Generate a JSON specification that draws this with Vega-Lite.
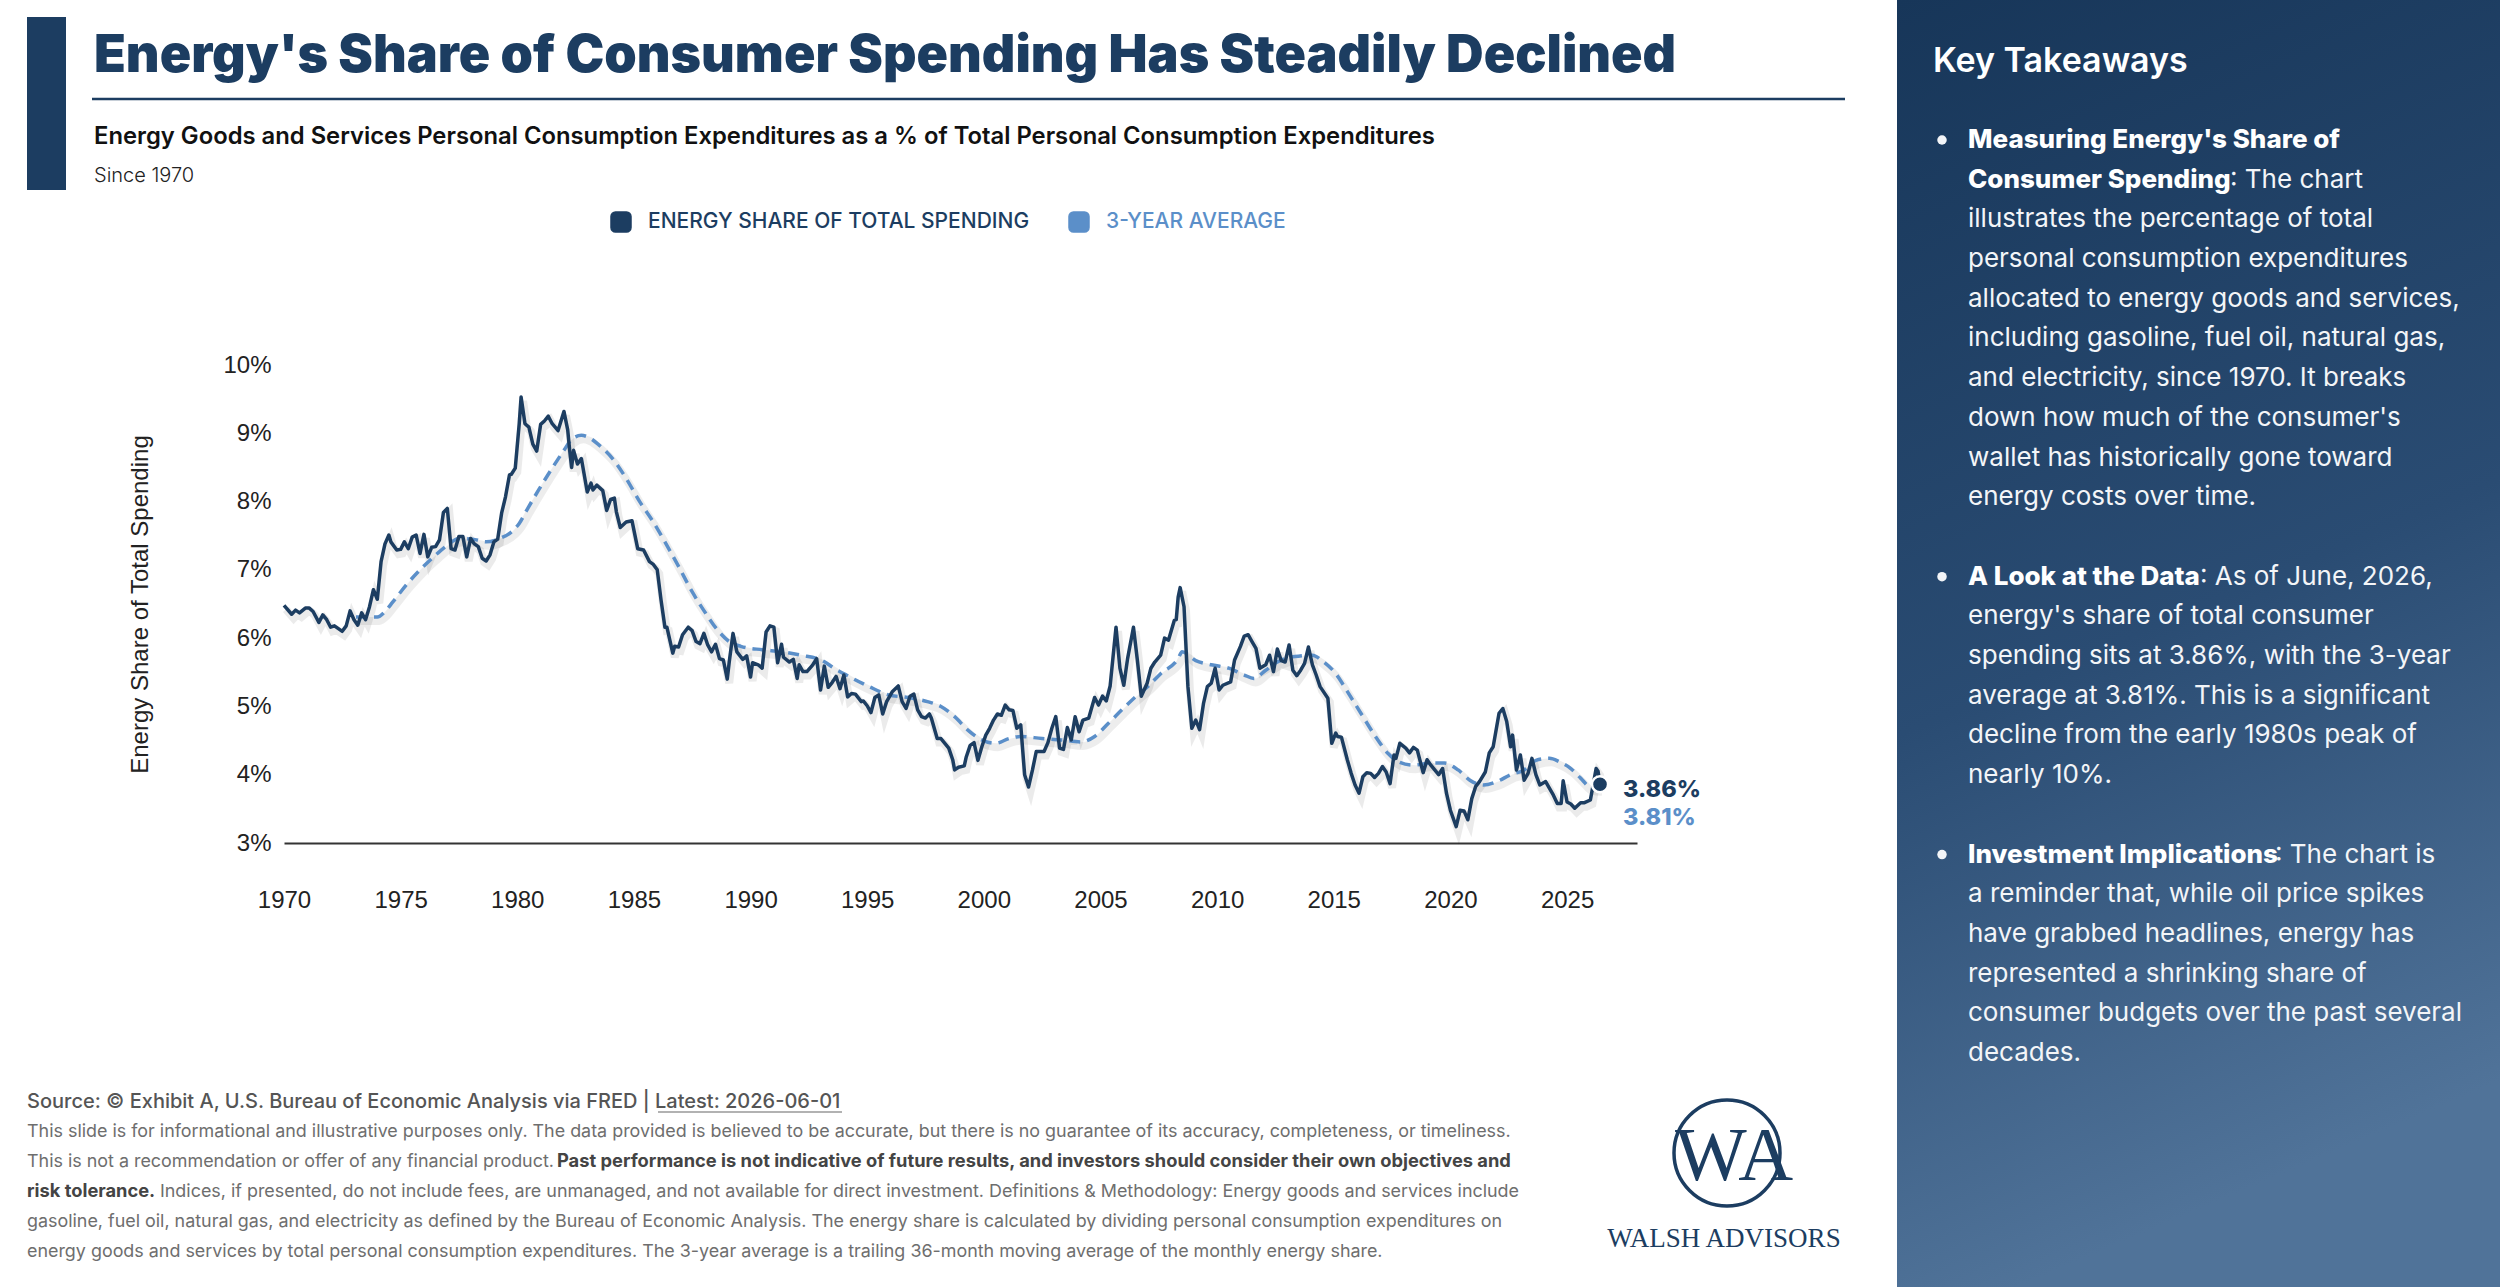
{
  "$schema": "https://vega.github.io/schema/vega-lite/v6.json",
  "width": 1353,
  "height": 478,
  "autosize": "none",
  "padding": {"left": 284, "top": 365, "right": 863, "bottom": 444},
  "background": "#ffffff",
  "config": {"view": {"stroke": null}, "font": "Inter"},
  "datasets": {
    "share": [
      {"date": "1970-01-01", "share": 0.0648}, {"date": "1970-05-01", "share": 0.0635}, {"date": "1970-07-01", "share": 0.0641},
      {"date": "1970-09-01", "share": 0.0637}, {"date": "1970-12-01", "share": 0.0644}, {"date": "1971-02-01", "share": 0.0644},
      {"date": "1971-04-01", "share": 0.0639}, {"date": "1971-07-01", "share": 0.0623}, {"date": "1971-09-01", "share": 0.0634},
      {"date": "1971-11-01", "share": 0.0627}, {"date": "1972-01-01", "share": 0.0616}, {"date": "1972-03-01", "share": 0.0618},
      {"date": "1972-07-01", "share": 0.0610}, {"date": "1972-09-01", "share": 0.0618}, {"date": "1972-11-01", "share": 0.0640},
      {"date": "1973-01-01", "share": 0.0627}, {"date": "1973-03-01", "share": 0.0619}, {"date": "1973-05-01", "share": 0.0637},
      {"date": "1973-07-01", "share": 0.0627}, {"date": "1973-09-01", "share": 0.0646}, {"date": "1973-11-01", "share": 0.0671},
      {"date": "1974-01-01", "share": 0.0657}, {"date": "1974-03-01", "share": 0.0712}, {"date": "1974-05-01", "share": 0.0738},
      {"date": "1974-07-01", "share": 0.0751}, {"date": "1974-08-01", "share": 0.0741}, {"date": "1974-11-01", "share": 0.0729},
      {"date": "1975-01-01", "share": 0.0730}, {"date": "1975-03-01", "share": 0.0741}, {"date": "1975-05-01", "share": 0.0731},
      {"date": "1975-07-01", "share": 0.0748}, {"date": "1975-09-01", "share": 0.0751}, {"date": "1975-11-01", "share": 0.0724},
      {"date": "1976-01-01", "share": 0.0752}, {"date": "1976-03-01", "share": 0.0719}, {"date": "1976-05-01", "share": 0.0733},
      {"date": "1976-07-01", "share": 0.0734}, {"date": "1976-09-01", "share": 0.0744}, {"date": "1976-11-01", "share": 0.0784},
      {"date": "1977-01-01", "share": 0.0790}, {"date": "1977-03-01", "share": 0.0731}, {"date": "1977-05-01", "share": 0.0729},
      {"date": "1977-07-01", "share": 0.0749}, {"date": "1977-09-01", "share": 0.0749}, {"date": "1977-11-01", "share": 0.0719},
      {"date": "1978-01-01", "share": 0.0746}, {"date": "1978-03-01", "share": 0.0738}, {"date": "1978-05-01", "share": 0.0734},
      {"date": "1978-07-01", "share": 0.0717}, {"date": "1978-09-01", "share": 0.0713}, {"date": "1978-11-01", "share": 0.0722},
      {"date": "1979-01-01", "share": 0.0741}, {"date": "1979-03-01", "share": 0.0745}, {"date": "1979-05-01", "share": 0.0783},
      {"date": "1979-07-01", "share": 0.0807}, {"date": "1979-09-01", "share": 0.0839}, {"date": "1979-10-01", "share": 0.0840},
      {"date": "1979-12-01", "share": 0.0849}, {"date": "1980-02-01", "share": 0.0914}, {"date": "1980-03-01", "share": 0.0953},
      {"date": "1980-05-01", "share": 0.0914}, {"date": "1980-07-01", "share": 0.0909}, {"date": "1980-09-01", "share": 0.0884},
      {"date": "1980-11-01", "share": 0.0874}, {"date": "1981-01-01", "share": 0.0913}, {"date": "1981-03-01", "share": 0.0918},
      {"date": "1981-05-01", "share": 0.0925}, {"date": "1981-07-01", "share": 0.0914}, {"date": "1981-10-01", "share": 0.0904},
      {"date": "1982-01-01", "share": 0.0932}, {"date": "1982-03-01", "share": 0.0905}, {"date": "1982-04-01", "share": 0.0875},
      {"date": "1982-05-01", "share": 0.0850}, {"date": "1982-06-01", "share": 0.0875}, {"date": "1982-08-01", "share": 0.0855},
      {"date": "1982-10-01", "share": 0.0863}, {"date": "1983-01-01", "share": 0.0814}, {"date": "1983-03-01", "share": 0.0827},
      {"date": "1983-04-01", "share": 0.0817}, {"date": "1983-06-01", "share": 0.0824}, {"date": "1983-09-01", "share": 0.0816},
      {"date": "1983-11-01", "share": 0.0787}, {"date": "1984-01-01", "share": 0.0803}, {"date": "1984-03-01", "share": 0.0805},
      {"date": "1984-04-01", "share": 0.0785}, {"date": "1984-06-01", "share": 0.0762}, {"date": "1984-09-01", "share": 0.0770},
      {"date": "1984-12-01", "share": 0.0772}, {"date": "1985-03-01", "share": 0.0731}, {"date": "1985-06-01", "share": 0.0729},
      {"date": "1985-09-01", "share": 0.0712}, {"date": "1985-11-01", "share": 0.0708}, {"date": "1986-01-01", "share": 0.0700},
      {"date": "1986-03-01", "share": 0.0656}, {"date": "1986-05-01", "share": 0.0616}, {"date": "1986-06-01", "share": 0.0616},
      {"date": "1986-09-01", "share": 0.0578}, {"date": "1986-10-01", "share": 0.0588}, {"date": "1986-12-01", "share": 0.0587},
      {"date": "1987-02-01", "share": 0.0605}, {"date": "1987-05-01", "share": 0.0616}, {"date": "1987-07-01", "share": 0.0611},
      {"date": "1987-09-01", "share": 0.0595}, {"date": "1987-11-01", "share": 0.0592}, {"date": "1988-01-01", "share": 0.0607},
      {"date": "1988-03-01", "share": 0.0590}, {"date": "1988-05-01", "share": 0.0580}, {"date": "1988-07-01", "share": 0.0591},
      {"date": "1988-09-01", "share": 0.0570}, {"date": "1988-11-01", "share": 0.0568}, {"date": "1989-01-01", "share": 0.0540},
      {"date": "1989-02-01", "share": 0.0565}, {"date": "1989-04-01", "share": 0.0607}, {"date": "1989-06-01", "share": 0.0580},
      {"date": "1989-09-01", "share": 0.0569}, {"date": "1989-11-01", "share": 0.0574}, {"date": "1990-01-01", "share": 0.0543},
      {"date": "1990-02-01", "share": 0.0564}, {"date": "1990-05-01", "share": 0.0561}, {"date": "1990-07-01", "share": 0.0556},
      {"date": "1990-09-01", "share": 0.0609}, {"date": "1990-11-01", "share": 0.0618}, {"date": "1991-01-01", "share": 0.0616},
      {"date": "1991-03-01", "share": 0.0564}, {"date": "1991-05-01", "share": 0.0591}, {"date": "1991-06-01", "share": 0.0572},
      {"date": "1991-09-01", "share": 0.0565}, {"date": "1991-11-01", "share": 0.0569}, {"date": "1992-01-01", "share": 0.0541},
      {"date": "1992-02-01", "share": 0.0561}, {"date": "1992-04-01", "share": 0.0551}, {"date": "1992-06-01", "share": 0.0551},
      {"date": "1992-09-01", "share": 0.0561}, {"date": "1992-11-01", "share": 0.0570}, {"date": "1993-01-01", "share": 0.0524},
      {"date": "1993-03-01", "share": 0.0559}, {"date": "1993-05-01", "share": 0.0528}, {"date": "1993-07-01", "share": 0.0535},
      {"date": "1993-09-01", "share": 0.0544}, {"date": "1993-11-01", "share": 0.0526}, {"date": "1994-01-01", "share": 0.0546},
      {"date": "1994-03-01", "share": 0.0514}, {"date": "1994-05-01", "share": 0.0519}, {"date": "1994-07-01", "share": 0.0518},
      {"date": "1994-10-01", "share": 0.0507}, {"date": "1994-11-01", "share": 0.0508}, {"date": "1995-01-01", "share": 0.0501},
      {"date": "1995-03-01", "share": 0.0491}, {"date": "1995-05-01", "share": 0.0513}, {"date": "1995-07-01", "share": 0.0517},
      {"date": "1995-09-01", "share": 0.0489}, {"date": "1995-11-01", "share": 0.0507}, {"date": "1996-02-01", "share": 0.0522},
      {"date": "1996-05-01", "share": 0.0530}, {"date": "1996-07-01", "share": 0.0507}, {"date": "1996-09-01", "share": 0.0497},
      {"date": "1996-11-01", "share": 0.0515}, {"date": "1997-01-01", "share": 0.0518}, {"date": "1997-03-01", "share": 0.0495},
      {"date": "1997-05-01", "share": 0.0485}, {"date": "1997-07-01", "share": 0.0483}, {"date": "1997-09-01", "share": 0.0489},
      {"date": "1997-10-01", "share": 0.0483}, {"date": "1998-01-01", "share": 0.0453}, {"date": "1998-03-01", "share": 0.0453},
      {"date": "1998-05-01", "share": 0.0446}, {"date": "1998-07-01", "share": 0.0439}, {"date": "1998-09-01", "share": 0.0422},
      {"date": "1998-10-01", "share": 0.0407}, {"date": "1998-12-01", "share": 0.0411}, {"date": "1999-03-01", "share": 0.0413},
      {"date": "1999-04-01", "share": 0.0426}, {"date": "1999-06-01", "share": 0.0443}, {"date": "1999-08-01", "share": 0.0447},
      {"date": "1999-10-01", "share": 0.0421}, {"date": "1999-12-01", "share": 0.0441}, {"date": "2000-02-01", "share": 0.0458},
      {"date": "2000-04-01", "share": 0.0468}, {"date": "2000-06-01", "share": 0.0480}, {"date": "2000-08-01", "share": 0.0489},
      {"date": "2000-10-01", "share": 0.0487}, {"date": "2000-12-01", "share": 0.0502}, {"date": "2001-02-01", "share": 0.0495},
      {"date": "2001-04-01", "share": 0.0494}, {"date": "2001-06-01", "share": 0.0468}, {"date": "2001-08-01", "share": 0.0473},
      {"date": "2001-10-01", "share": 0.0400}, {"date": "2001-12-01", "share": 0.0382}, {"date": "2002-02-01", "share": 0.0407},
      {"date": "2002-04-01", "share": 0.0434}, {"date": "2002-08-01", "share": 0.0434}, {"date": "2002-10-01", "share": 0.0447},
      {"date": "2002-12-01", "share": 0.0468}, {"date": "2003-02-01", "share": 0.0485}, {"date": "2003-04-01", "share": 0.0439},
      {"date": "2003-06-01", "share": 0.0437}, {"date": "2003-08-01", "share": 0.0469}, {"date": "2003-10-01", "share": 0.0451},
      {"date": "2003-12-01", "share": 0.0485}, {"date": "2004-02-01", "share": 0.0463}, {"date": "2004-04-01", "share": 0.0480},
      {"date": "2004-07-01", "share": 0.0483}, {"date": "2004-10-01", "share": 0.0513}, {"date": "2004-12-01", "share": 0.0502},
      {"date": "2005-02-01", "share": 0.0515}, {"date": "2005-04-01", "share": 0.0508}, {"date": "2005-06-01", "share": 0.0530},
      {"date": "2005-09-01", "share": 0.0616}, {"date": "2005-11-01", "share": 0.0556}, {"date": "2006-01-01", "share": 0.0531},
      {"date": "2006-03-01", "share": 0.0570}, {"date": "2006-06-01", "share": 0.0616}, {"date": "2006-08-01", "share": 0.0568},
      {"date": "2006-10-01", "share": 0.0515}, {"date": "2007-01-01", "share": 0.0534}, {"date": "2007-03-01", "share": 0.0556},
      {"date": "2007-05-01", "share": 0.0565}, {"date": "2007-08-01", "share": 0.0575}, {"date": "2007-10-01", "share": 0.0600},
      {"date": "2007-12-01", "share": 0.0597}, {"date": "2008-03-01", "share": 0.0626}, {"date": "2008-04-01", "share": 0.0627},
      {"date": "2008-05-01", "share": 0.0660}, {"date": "2008-06-01", "share": 0.0674}, {"date": "2008-08-01", "share": 0.0646},
      {"date": "2008-10-01", "share": 0.0529}, {"date": "2008-12-01", "share": 0.0468}, {"date": "2009-02-01", "share": 0.0480},
      {"date": "2009-04-01", "share": 0.0466}, {"date": "2009-06-01", "share": 0.0504}, {"date": "2009-08-01", "share": 0.0529},
      {"date": "2009-10-01", "share": 0.0534}, {"date": "2009-12-01", "share": 0.0556}, {"date": "2010-02-01", "share": 0.0524},
      {"date": "2010-04-01", "share": 0.0531}, {"date": "2010-08-01", "share": 0.0536}, {"date": "2010-10-01", "share": 0.0568},
      {"date": "2011-01-01", "share": 0.0588}, {"date": "2011-03-01", "share": 0.0603}, {"date": "2011-05-01", "share": 0.0605},
      {"date": "2011-07-01", "share": 0.0595}, {"date": "2011-09-01", "share": 0.0585}, {"date": "2011-11-01", "share": 0.0556},
      {"date": "2012-02-01", "share": 0.0561}, {"date": "2012-04-01", "share": 0.0575}, {"date": "2012-06-01", "share": 0.0551},
      {"date": "2012-08-01", "share": 0.0584}, {"date": "2012-10-01", "share": 0.0567}, {"date": "2012-12-01", "share": 0.0565},
      {"date": "2013-02-01", "share": 0.0590}, {"date": "2013-04-01", "share": 0.0553}, {"date": "2013-06-01", "share": 0.0545},
      {"date": "2013-08-01", "share": 0.0553}, {"date": "2013-10-01", "share": 0.0563}, {"date": "2013-12-01", "share": 0.0587},
      {"date": "2014-02-01", "share": 0.0561}, {"date": "2014-04-01", "share": 0.0546}, {"date": "2014-06-01", "share": 0.0529},
      {"date": "2014-10-01", "share": 0.0512}, {"date": "2014-12-01", "share": 0.0446}, {"date": "2015-02-01", "share": 0.0461},
      {"date": "2015-03-01", "share": 0.0456}, {"date": "2015-05-01", "share": 0.0455}, {"date": "2015-08-01", "share": 0.0422},
      {"date": "2015-10-01", "share": 0.0402}, {"date": "2015-12-01", "share": 0.0385}, {"date": "2016-02-01", "share": 0.0373},
      {"date": "2016-04-01", "share": 0.0397}, {"date": "2016-06-01", "share": 0.0403}, {"date": "2016-08-01", "share": 0.0402},
      {"date": "2016-10-01", "share": 0.0396}, {"date": "2016-12-01", "share": 0.0402}, {"date": "2017-02-01", "share": 0.0412},
      {"date": "2017-04-01", "share": 0.0404}, {"date": "2017-06-01", "share": 0.0387}, {"date": "2017-08-01", "share": 0.0429},
      {"date": "2017-09-01", "share": 0.0424}, {"date": "2017-11-01", "share": 0.0446}, {"date": "2018-02-01", "share": 0.0439},
      {"date": "2018-04-01", "share": 0.0432}, {"date": "2018-06-01", "share": 0.0440}, {"date": "2018-08-01", "share": 0.0436},
      {"date": "2018-11-01", "share": 0.0403}, {"date": "2019-01-01", "share": 0.0422}, {"date": "2019-03-01", "share": 0.0414},
      {"date": "2019-05-01", "share": 0.0407}, {"date": "2019-07-01", "share": 0.0400}, {"date": "2019-09-01", "share": 0.0409},
      {"date": "2019-11-01", "share": 0.0373}, {"date": "2020-01-01", "share": 0.0348}, {"date": "2020-04-01", "share": 0.0324},
      {"date": "2020-06-01", "share": 0.0348}, {"date": "2020-08-01", "share": 0.0347}, {"date": "2020-10-01", "share": 0.0334},
      {"date": "2020-12-01", "share": 0.0365}, {"date": "2021-02-01", "share": 0.0383}, {"date": "2021-04-01", "share": 0.0390},
      {"date": "2021-07-01", "share": 0.0404}, {"date": "2021-09-01", "share": 0.0432}, {"date": "2021-11-01", "share": 0.0441},
      {"date": "2022-02-01", "share": 0.0490}, {"date": "2022-04-01", "share": 0.0497}, {"date": "2022-06-01", "share": 0.0478},
      {"date": "2022-08-01", "share": 0.0441}, {"date": "2022-09-01", "share": 0.0458}, {"date": "2022-11-01", "share": 0.0407},
      {"date": "2023-01-01", "share": 0.0429}, {"date": "2023-03-01", "share": 0.0392}, {"date": "2023-05-01", "share": 0.0402},
      {"date": "2023-07-01", "share": 0.0424}, {"date": "2023-09-01", "share": 0.0400}, {"date": "2023-11-01", "share": 0.0385},
      {"date": "2024-02-01", "share": 0.0390}, {"date": "2024-04-01", "share": 0.0380}, {"date": "2024-06-01", "share": 0.0370},
      {"date": "2024-08-01", "share": 0.0358}, {"date": "2024-10-01", "share": 0.0358}, {"date": "2024-11-01", "share": 0.0391},
      {"date": "2025-01-01", "share": 0.0360}, {"date": "2025-03-01", "share": 0.0357}, {"date": "2025-05-01", "share": 0.0351},
      {"date": "2025-08-01", "share": 0.0359}, {"date": "2025-10-01", "share": 0.0359}, {"date": "2026-01-01", "share": 0.0363},
      {"date": "2026-04-01", "share": 0.0409}, {"date": "2026-05-01", "share": 0.0405}, {"date": "2026-06-01", "share": 0.0386}
    ],
    "average": [
      {"date": "1973-02-01", "avg": 0.0631}, {"date": "1974-01-01", "avg": 0.0631}, {"date": "1974-05-01", "avg": 0.0639},
      {"date": "1974-09-01", "avg": 0.0653}, {"date": "1975-04-01", "avg": 0.0678}, {"date": "1975-11-01", "avg": 0.0700},
      {"date": "1976-06-01", "avg": 0.0719}, {"date": "1977-01-01", "avg": 0.0736}, {"date": "1977-07-01", "avg": 0.0746},
      {"date": "1978-02-01", "avg": 0.0745}, {"date": "1978-09-01", "avg": 0.0741}, {"date": "1979-04-01", "avg": 0.0746},
      {"date": "1979-11-01", "avg": 0.0758}, {"date": "1980-02-01", "avg": 0.0768}, {"date": "1980-06-01", "avg": 0.0788},
      {"date": "1980-12-01", "avg": 0.0817}, {"date": "1981-07-01", "avg": 0.0849}, {"date": "1982-01-01", "avg": 0.0875},
      {"date": "1982-05-01", "avg": 0.0891}, {"date": "1982-10-01", "avg": 0.0897}, {"date": "1983-01-01", "avg": 0.0895},
      {"date": "1983-07-01", "avg": 0.0883}, {"date": "1984-02-01", "avg": 0.0863}, {"date": "1984-09-01", "avg": 0.0834},
      {"date": "1985-04-01", "avg": 0.0800}, {"date": "1985-11-01", "avg": 0.0770}, {"date": "1986-05-01", "avg": 0.0741},
      {"date": "1986-12-01", "avg": 0.0705}, {"date": "1987-07-01", "avg": 0.0668}, {"date": "1988-02-01", "avg": 0.0636},
      {"date": "1988-08-01", "avg": 0.0612}, {"date": "1989-02-01", "avg": 0.0595}, {"date": "1989-08-01", "avg": 0.0588},
      {"date": "1990-07-01", "avg": 0.0583}, {"date": "1991-05-01", "avg": 0.0580}, {"date": "1992-03-01", "avg": 0.0575},
      {"date": "1993-02-01", "avg": 0.0567}, {"date": "1993-08-01", "avg": 0.0556}, {"date": "1994-03-01", "avg": 0.0545},
      {"date": "1995-02-01", "avg": 0.0529}, {"date": "1995-12-01", "avg": 0.0517}, {"date": "1996-10-01", "avg": 0.0513},
      {"date": "1997-08-01", "avg": 0.0507}, {"date": "1998-03-01", "avg": 0.0500}, {"date": "1998-10-01", "avg": 0.0485},
      {"date": "1999-05-01", "avg": 0.0465}, {"date": "1999-12-01", "avg": 0.0451}, {"date": "2000-07-01", "avg": 0.0446},
      {"date": "2001-02-01", "avg": 0.0453}, {"date": "2001-08-01", "avg": 0.0456}, {"date": "2002-07-01", "avg": 0.0453},
      {"date": "2003-05-01", "avg": 0.0451}, {"date": "2004-03-01", "avg": 0.0448}, {"date": "2004-10-01", "avg": 0.0456},
      {"date": "2005-05-01", "avg": 0.0475}, {"date": "2005-12-01", "avg": 0.0495}, {"date": "2006-07-01", "avg": 0.0514},
      {"date": "2007-02-01", "avg": 0.0531}, {"date": "2007-08-01", "avg": 0.0548}, {"date": "2008-05-01", "avg": 0.0570},
      {"date": "2008-07-01", "avg": 0.0580}, {"date": "2009-02-01", "avg": 0.0567}, {"date": "2009-10-01", "avg": 0.0561},
      {"date": "2010-07-01", "avg": 0.0556}, {"date": "2011-03-01", "avg": 0.0546}, {"date": "2011-08-01", "avg": 0.0541},
      {"date": "2012-02-01", "avg": 0.0553}, {"date": "2012-08-01", "avg": 0.0565}, {"date": "2013-05-01", "avg": 0.0573},
      {"date": "2014-02-01", "avg": 0.0575}, {"date": "2014-07-01", "avg": 0.0567}, {"date": "2015-02-01", "avg": 0.0548},
      {"date": "2015-08-01", "avg": 0.0522}, {"date": "2016-03-01", "avg": 0.0490}, {"date": "2016-10-01", "avg": 0.0458},
      {"date": "2017-05-01", "avg": 0.0431}, {"date": "2017-11-01", "avg": 0.0418}, {"date": "2018-06-01", "avg": 0.0414},
      {"date": "2019-03-01", "avg": 0.0417}, {"date": "2019-10-01", "avg": 0.0417}, {"date": "2020-05-01", "avg": 0.0407},
      {"date": "2020-11-01", "avg": 0.0392}, {"date": "2021-06-01", "avg": 0.0385}, {"date": "2022-01-01", "avg": 0.0390},
      {"date": "2022-08-01", "avg": 0.0400}, {"date": "2023-03-01", "avg": 0.0407}, {"date": "2023-09-01", "avg": 0.0421},
      {"date": "2024-04-01", "avg": 0.0424}, {"date": "2024-09-01", "avg": 0.0419}, {"date": "2025-03-01", "avg": 0.0409},
      {"date": "2025-08-01", "avg": 0.0395}, {"date": "2026-01-01", "avg": 0.0382}, {"date": "2026-06-01", "avg": 0.0381}
    ],
    "takeaways": [
      {"line": 0, "seg": 1, "role": "lead", "text": "Measuring Energy's Share of"},
      {"line": 1, "seg": 1, "role": "lead", "text": "Consumer Spending"},
      {"line": 1, "seg": 2, "role": "body", "text": ": The chart"},
      {"line": 2, "seg": 1, "role": "body", "text": "illustrates the percentage of total"},
      {"line": 3, "seg": 1, "role": "body", "text": "personal consumption expenditures"},
      {"line": 4, "seg": 1, "role": "body", "text": "allocated to energy goods and services,"},
      {"line": 5, "seg": 1, "role": "body", "text": "including gasoline, fuel oil, natural gas,"},
      {"line": 6, "seg": 1, "role": "body", "text": "and electricity, since 1970. It breaks"},
      {"line": 7, "seg": 1, "role": "body", "text": "down how much of the consumer's"},
      {"line": 8, "seg": 1, "role": "body", "text": "wallet has historically gone toward"},
      {"line": 9, "seg": 1, "role": "body", "text": "energy costs over time."},
      {"line": 11, "seg": 1, "role": "lead", "text": "A Look at the Data"},
      {"line": 11, "seg": 2, "role": "body", "text": ": As of June, 2026,"},
      {"line": 12, "seg": 1, "role": "body", "text": "energy's share of total consumer"},
      {"line": 13, "seg": 1, "role": "body", "text": "spending sits at 3.86%, with the 3-year"},
      {"line": 14, "seg": 1, "role": "body", "text": "average at 3.81%. This is a significant"},
      {"line": 15, "seg": 1, "role": "body", "text": "decline from the early 1980s peak of"},
      {"line": 16, "seg": 1, "role": "body", "text": "nearly 10%."},
      {"line": 18, "seg": 1, "role": "lead", "text": "Investment Implications"},
      {"line": 18, "seg": 2, "role": "body", "text": ": The chart is"},
      {"line": 19, "seg": 1, "role": "body", "text": "a reminder that, while oil price spikes"},
      {"line": 20, "seg": 1, "role": "body", "text": "have grabbed headlines, energy has"},
      {"line": 21, "seg": 1, "role": "body", "text": "represented a shrinking share of"},
      {"line": 22, "seg": 1, "role": "body", "text": "consumer budgets over the past several"},
      {"line": 23, "seg": 1, "role": "body", "text": "decades."}
    ],
    "bullets": [{"line": 0}, {"line": 11}, {"line": 18}],
    "notes": [
      {"line": 0, "seg": 1, "role": "source", "text": "Source: © Exhibit A, U.S. Bureau of Economic Analysis via FRED | Latest: 2026-06-01"},
      {"line": 1, "seg": 1, "role": "body", "text": "This slide is for informational and illustrative purposes only. The data provided is believed to be accurate, but there is no guarantee of its accuracy, completeness, or timeliness."},
      {"line": 2, "seg": 1, "role": "body", "text": "This is not a recommendation or offer of any financial product."},
      {"line": 2, "seg": 2, "role": "lead", "text": "Past performance is not indicative of future results, and investors should consider their own objectives and"},
      {"line": 3, "seg": 1, "role": "lead", "text": "risk tolerance."},
      {"line": 3, "seg": 2, "role": "body", "text": "Indices, if presented, do not include fees, are unmanaged, and not available for direct investment. Definitions & Methodology: Energy goods and services include"},
      {"line": 4, "seg": 1, "role": "body", "text": "gasoline, fuel oil, natural gas, and electricity as defined by the Bureau of Economic Analysis. The energy share is calculated by dividing personal consumption expenditures on"},
      {"line": 5, "seg": 1, "role": "body", "text": "energy goods and services by total personal consumption expenditures. The 3-year average is a trailing 36-month moving average of the monthly energy share."}
    ]
  },
  "layer": [
    {
      "layer": [
        {
          "data": {"values": [{"part": "panel"}]},
          "mark": {
            "type": "rect",
            "color": {"gradient": "linear", "x1": 0, "y1": 0, "x2": 0.2, "y2": 1,
              "stops": [{"offset": 0, "color": "#173659"}, {"offset": 0.55, "color": "#2a4c73"}, {"offset": 1, "color": "#507399"}]}
          },
          "encoding": {"x": {"value": 1613}, "x2": {"value": 2216}, "y": {"value": -365}, "y2": {"value": 922}}
        },
        {
          "data": {"values": [{"part": "bar"}]},
          "mark": {"type": "rect", "color": "#1c3d61"},
          "encoding": {"x": {"value": -257}, "x2": {"value": -218}, "y": {"value": -348}, "y2": {"value": -175}}
        },
        {
          "data": {"values": [{"part": "rule"}]},
          "mark": {"type": "rule", "color": "#1c3d61", "strokeWidth": 2.5},
          "encoding": {"x": {"value": -192}, "x2": {"value": 1561}, "y": {"value": -266}}
        },
        {
          "data": {"values": [{"text": "Energy's Share of Consumer Spending Has Steadily Declined"}]},
          "mark": {"type": "text", "align": "left", "baseline": "alphabetic", "font": "Inter", "fontSize": 52, "fontWeight": 900, "letterSpacing": -2.8, "color": "#1c3d61"},
          "encoding": {"x": {"value": -190}, "y": {"value": -293}, "text": {"field": "text"}}
        },
        {
          "data": {"values": [{"text": "Energy Goods and Services Personal Consumption Expenditures as a % of Total Personal Consumption Expenditures"}]},
          "mark": {"type": "text", "align": "left", "baseline": "alphabetic", "font": "Inter", "fontSize": 23.8, "fontWeight": 600, "letterSpacing": 0.1, "color": "#111111"},
          "encoding": {"x": {"value": -190}, "y": {"value": -221}, "text": {"field": "text"}}
        },
        {
          "data": {"values": [{"text": "Since 1970"}]},
          "mark": {"type": "text", "align": "left", "baseline": "alphabetic", "font": "Inter", "fontSize": 20, "fontWeight": 300, "color": "#222222"},
          "encoding": {"x": {"value": -190}, "y": {"value": -183}, "text": {"field": "text"}}
        },
        {
          "data": {"values": [{"text": "Key Takeaways"}]},
          "mark": {"type": "text", "align": "left", "baseline": "alphabetic", "font": "Inter", "fontSize": 34, "fontWeight": 600, "color": "#ffffff"},
          "encoding": {"x": {"value": 1649}, "y": {"value": -293}, "text": {"field": "text"}}
        },
        {
          "data": {"values": [{"part": "logo"}]},
          "mark": {"type": "point", "shape": "circle", "filled": false, "size": 11236, "stroke": "#1c3d61", "strokeWidth": 3.5, "opacity": 1},
          "encoding": {"x": {"value": 1443}, "y": {"value": 788}}
        },
        {
          "data": {"values": [{"text": "WA"}]},
          "mark": {"type": "text", "align": "center", "baseline": "middle", "font": "Liberation Serif", "fontSize": 76, "letterSpacing": -18, "color": "#1c3d61"},
          "encoding": {"x": {"value": 1450}, "y": {"value": 792}, "text": {"field": "text"}}
        },
        {
          "data": {"values": [{"text": "WALSH ADVISORS"}]},
          "mark": {"type": "text", "align": "center", "baseline": "alphabetic", "font": "Liberation Serif", "fontSize": 27, "letterSpacing": -3, "color": "#1c3d61"},
          "encoding": {"x": {"value": 1440}, "y": {"value": 882}, "text": {"field": "text"}}
        },
        {
          "data": {"values": [{"part": "underline"}]},
          "mark": {"type": "rule", "color": "#666666", "strokeWidth": 1.2},
          "encoding": {"x": {"value": 374}, "x2": {"value": 558}, "y": {"value": 747}}
        }
      ]
    },
    {
      "layer": [
        {
          "data": {"name": "average"},
          "mark": {"type": "line", "interpolate": "monotone", "color": "#000000", "opacity": 0.07, "strokeWidth": 8, "xOffset": 2, "yOffset": 4},
          "encoding": {
            "x": {"field": "date", "type": "temporal"},
            "y": {"field": "avg", "type": "quantitative"}
          }
        },
        {
          "data": {"name": "share"},
          "mark": {"type": "line", "color": "#000000", "opacity": 0.08, "strokeWidth": 8, "xOffset": 2, "yOffset": 4},
          "encoding": {
            "x": {"field": "date", "type": "temporal"},
            "y": {"field": "share", "type": "quantitative"}
          }
        },
        {
          "data": {"name": "average"},
          "mark": {"type": "line", "interpolate": "monotone", "strokeWidth": 3.5, "strokeDash": [11, 7]},
          "encoding": {
            "x": {"field": "date", "type": "temporal"},
            "y": {"field": "avg", "type": "quantitative"},
            "color": {"datum": "3-YEAR AVERAGE"}
          }
        },
        {
          "data": {"name": "share"},
          "mark": {"type": "line", "strokeWidth": 3.5, "strokeJoin": "round"},
          "encoding": {
            "x": {
              "field": "date", "type": "temporal",
              "scale": {"domain": [{"year": 1970, "month": 1, "date": 1}, {"year": 2028, "month": 1, "date": 1}]},
              "axis": {
                "title": null, "format": "%Y", "tickCount": {"interval": "year", "step": 5},
                "grid": false, "ticks": false, "domain": true, "domainColor": "#333333", "domainWidth": 2,
                "labelFont": "Liberation Sans", "labelFontSize": 24, "labelColor": "#222222",
                "labelPadding": 45, "labelFlush": false, "labelOverlap": false
              }
            },
            "y": {
              "field": "share", "type": "quantitative",
              "scale": {"domain": [0.03, 0.10], "nice": false, "zero": false},
              "axis": {
                "title": "Energy Share of Total Spending", "format": ".0%", "values": [0.03, 0.04, 0.05, 0.06, 0.07, 0.08, 0.09, 0.10],
                "grid": false, "ticks": false, "domain": false,
                "labelFont": "Liberation Sans", "labelFontSize": 24, "labelColor": "#222222", "labelPadding": 13,
                "titleFont": "Liberation Sans", "titleFontSize": 24, "titleFontWeight": "normal", "titleColor": "#222222", "titlePadding": 70
              }
            },
            "color": {
              "datum": "ENERGY SHARE OF TOTAL SPENDING",
              "scale": {"domain": ["ENERGY SHARE OF TOTAL SPENDING", "3-YEAR AVERAGE"], "range": ["#1c3d61", "#5b8fc9"]},
              "legend": {
                "title": null, "orient": "none", "legendX": 326, "legendY": -154, "direction": "horizontal",
                "symbolType": "M-0.55,-1H0.55A0.45,0.45,0,0,1,1,-0.55V0.55A0.45,0.45,0,0,1,0.55,1H-0.55A0.45,0.45,0,0,1,-1,0.55V-0.55A0.45,0.45,0,0,1,-0.55,-1Z",
                "symbolSize": 400, "labelFont": "Inter", "labelFontSize": 21, "labelFontWeight": 500,
                "labelOffset": 16, "columnPadding": 36, "padding": 0, "labelLimit": 0,
                "encode": {
                  "symbols": {"update": {"fill": {"scale": "color", "field": "value"}, "stroke": {"value": "transparent"}, "strokeDash": {"value": []}, "opacity": {"value": 1}}},
                  "labels": {"update": {"fill": {"signal": "datum.value === '3-YEAR AVERAGE' ? '#5b8fc9' : '#1c3d61'"}}}
                }
              }
            }
          }
        },
        {
          "data": {"name": "share"},
          "transform": [{"filter": "time(datum.date) >= utc(2026, 5, 1)"}],
          "mark": {"type": "point", "shape": "circle", "filled": true, "size": 260, "color": "#1c3d61", "stroke": "#ffffff", "strokeWidth": 2.5, "opacity": 1},
          "encoding": {
            "x": {"field": "date", "type": "temporal"},
            "y": {"field": "share", "type": "quantitative"}
          }
        },
        {
          "data": {"name": "share"},
          "transform": [{"filter": "time(datum.date) >= utc(2026, 5, 1)"}],
          "mark": {"type": "text", "align": "left", "baseline": "middle", "dx": 23, "dy": 6, "font": "Inter", "fontSize": 23.5, "fontWeight": 800, "color": "#1c3d61"},
          "encoding": {
            "x": {"field": "date", "type": "temporal"},
            "y": {"field": "share", "type": "quantitative"},
            "text": {"field": "share", "type": "quantitative", "format": ".2%"}
          }
        },
        {
          "data": {"name": "average"},
          "transform": [{"filter": "time(datum.date) >= utc(2026, 5, 1)"}],
          "mark": {"type": "text", "align": "left", "baseline": "middle", "dx": 23, "dy": 30, "font": "Inter", "fontSize": 23.5, "fontWeight": 800, "color": "#5b8fc9"},
          "encoding": {
            "x": {"field": "date", "type": "temporal"},
            "y": {"field": "avg", "type": "quantitative"},
            "text": {"field": "avg", "type": "quantitative", "format": ".2%"}
          }
        }
      ]
    },
    {
      "data": {"name": "takeaways"},
      "encoding": {
        "y": {"field": "line", "type": "quantitative", "scale": {"domain": [0, 23], "range": [-225, 688]}, "axis": null},
        "text": {"field": "text"}
      },
      "layer": [
        {
          "transform": [{"filter": "datum.role === 'lead'"}],
          "mark": {"type": "text", "align": "left", "baseline": "middle", "font": "Inter", "fontSize": 26, "fontWeight": 800, "color": "#ffffff"},
          "encoding": {"x": {"value": 1684}}
        },
        {
          "transform": [{"filter": "datum.role === 'body' && datum.seg === 1"}],
          "mark": {"type": "text", "align": "left", "baseline": "middle", "font": "Inter", "fontSize": 26, "fontWeight": 400, "color": "#f3f5f8"},
          "encoding": {"x": {"value": 1684}}
        },
        {
          "transform": [{"filter": "datum.seg === 2 && datum.line === 1"}],
          "mark": {"type": "text", "align": "left", "baseline": "middle", "dx": 262, "font": "Inter", "fontSize": 26, "fontWeight": 400, "color": "#f3f5f8"},
          "encoding": {"x": {"value": 1684}}
        },
        {
          "transform": [{"filter": "datum.seg === 2 && datum.line === 11"}],
          "mark": {"type": "text", "align": "left", "baseline": "middle", "dx": 232, "font": "Inter", "fontSize": 26, "fontWeight": 400, "color": "#f3f5f8"},
          "encoding": {"x": {"value": 1684}}
        },
        {
          "transform": [{"filter": "datum.seg === 2 && datum.line === 18"}],
          "mark": {"type": "text", "align": "left", "baseline": "middle", "dx": 307, "font": "Inter", "fontSize": 26, "fontWeight": 400, "color": "#f3f5f8"},
          "encoding": {"x": {"value": 1684}}
        },
        {
          "data": {"name": "bullets"},
          "mark": {"type": "point", "shape": "circle", "filled": true, "size": 90, "color": "#f3f5f8", "opacity": 1},
          "encoding": {"x": {"value": 1658}, "text": null}
        }
      ]
    },
    {
      "data": {"name": "notes"},
      "encoding": {
        "y": {"field": "line", "type": "quantitative", "scale": {"domain": [0, 5], "range": [737, 887]}, "axis": null},
        "text": {"field": "text"}
      },
      "layer": [
        {
          "transform": [{"filter": "datum.role === 'source'"}],
          "mark": {"type": "text", "align": "left", "baseline": "middle", "font": "Inter", "fontSize": 20, "fontWeight": 500, "color": "#555555"},
          "encoding": {"x": {"value": -257}}
        },
        {
          "transform": [{"filter": "datum.role === 'body' && datum.seg === 1"}],
          "mark": {"type": "text", "align": "left", "baseline": "middle", "font": "Inter", "fontSize": 17.9, "fontWeight": 400, "color": "#6e6e6e"},
          "encoding": {"x": {"value": -257}}
        },
        {
          "transform": [{"filter": "datum.role === 'lead' && datum.seg === 1"}],
          "mark": {"type": "text", "align": "left", "baseline": "middle", "font": "Inter", "fontSize": 18.3, "fontWeight": 700, "color": "#444444"},
          "encoding": {"x": {"value": -257}}
        },
        {
          "transform": [{"filter": "datum.seg === 2 && datum.line === 2"}],
          "mark": {"type": "text", "align": "left", "baseline": "middle", "dx": 530, "font": "Inter", "fontSize": 18.3, "fontWeight": 700, "color": "#444444"},
          "encoding": {"x": {"value": -257}}
        },
        {
          "transform": [{"filter": "datum.seg === 2 && datum.line === 3"}],
          "mark": {"type": "text", "align": "left", "baseline": "middle", "dx": 133, "font": "Inter", "fontSize": 17.9, "fontWeight": 400, "color": "#6e6e6e"},
          "encoding": {"x": {"value": -257}}
        }
      ]
    }
  ],
  "resolve": {"scale": {"y": "independent"}}
}
